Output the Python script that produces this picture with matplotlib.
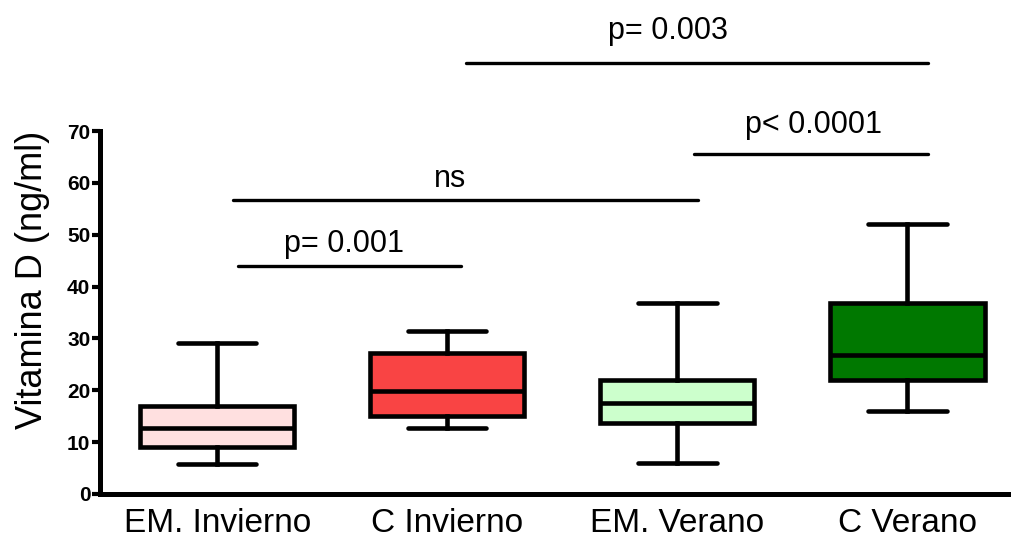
import matplotlib
matplotlib.use('Agg')
import matplotlib.pyplot as plt

plt.rcParams['font.family'] = ['Liberation Sans', 'DejaVu Sans']

# box statistics (ng/ml)
groups = ['EM. Invierno', 'C Invierno', 'EM. Verano', 'C Verano']
whisker_low = [5.7, 12.7, 5.9, 16.0]
q1 = [9.1, 15.0, 13.7, 22.0]
median = [12.8, 19.9, 17.6, 26.9]
q3 = [17.0, 27.1, 22.0, 36.9]
whisker_high = [29.2, 31.4, 36.8, 52.0]
box_colors = ['#FFE0E0', '#F94444', '#CCFFCC', '#007800']

# significance bars: (x start, x end, y level) and their labels
bar_x0 = [1.09, 1.07, 3.07, 2.08]
bar_x1 = [2.06, 3.09, 4.09, 4.09]
bar_y = [44.0, 56.6, 65.5, 83.2]
bar_labels = ['p= 0.001', 'ns', 'p< 0.0001', 'p= 0.003']
label_x = [1.55, 2.01, 3.59, 2.96]
label_y = [46.7, 59.2, 69.6, 87.7]

fig = plt.figure(figsize=(10.11, 5.47), dpi=100)
ax = fig.add_axes([0.0989, 0.0969, 0.9011, 0.6636])

stats = []
for i in range(len(groups)):
  stats.append({'whislo': whisker_low[i], 'q1': q1[i], 'med': median[i],
                'q3': q3[i], 'whishi': whisker_high[i], 'fliers': []})

lw = 3.3
bp = ax.bxp(stats, positions=range(1, len(groups) + 1), widths=0.67,
            patch_artist=True, showfliers=False,
            boxprops=dict(linewidth=lw, edgecolor='black'),
            medianprops=dict(linewidth=lw, color='black'),
            whiskerprops=dict(linewidth=lw, color='black'),
            capprops=dict(linewidth=lw, color='black', solid_capstyle='round'),
            capwidths=0.34)
for patch, c in zip(bp['boxes'], box_colors):
  patch.set_facecolor(c)

for x0, x1, y in zip(bar_x0, bar_x1, bar_y):
  ax.plot([x0, x1], [y, y], color='black', linewidth=2.4, clip_on=False,
          solid_capstyle='round')
for tx, ty, lab in zip(label_x, label_y, bar_labels):
  ax.text(tx, ty, lab, ha='center', va='baseline', fontsize=22, clip_on=False)

ax.set_xlim(0.49, 4.45)
ax.set_ylim(0, 70)
ax.set_yticks(range(0, 71, 10))
ax.set_yticklabels([str(v) for v in range(0, 71, 10)], fontsize=15,
                   fontweight='bold')
ax.set_xticks(range(1, len(groups) + 1))
ax.set_xticklabels(groups, fontsize=24)
ax.tick_params(axis='x', length=0, pad=10)
ax.tick_params(axis='y', length=6, width=3, pad=1)

for side in ['top', 'right']:
  ax.spines[side].set_visible(False)
for side in ['left', 'bottom']:
  ax.spines[side].set_linewidth(3.6)

ax.set_ylabel('Vitamina D (ng/ml)', fontsize=26)
ax.yaxis.set_label_coords(-0.055, 0.59)

fig.savefig('out.png', dpi=100)
plt.close()
